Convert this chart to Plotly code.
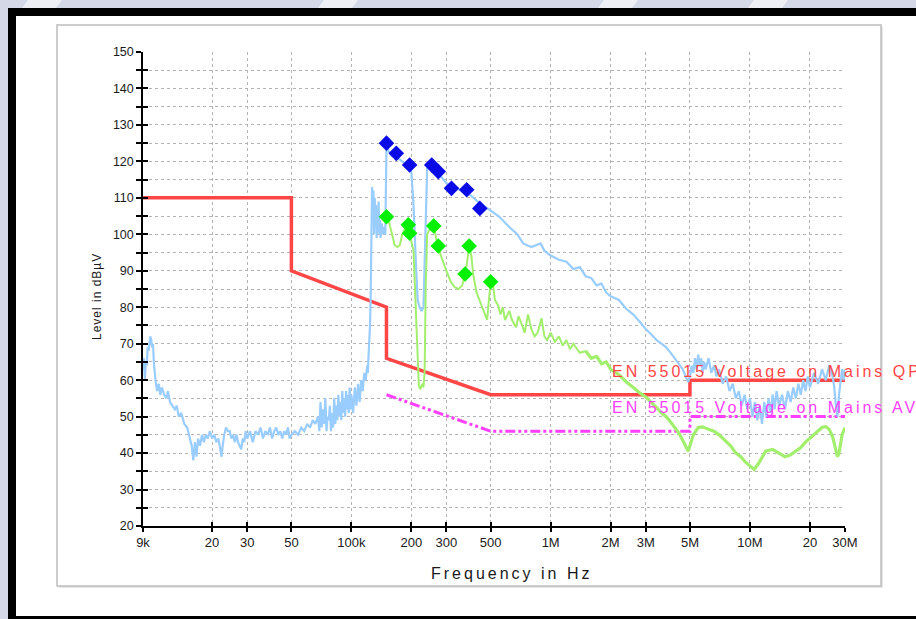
import plotly.graph_objects as go

# ---------------- data ----------------
# Peak scan (light blue), frequency in kHz, level in dBuV
peak_f_khz = [9.0, 9.1, 9.2, 9.3, 9.4, 9.5, 9.6, 9.7, 9.8, 9.9, 10.0, 10.1, 10.2, 10.4, 10.6, 10.8,
              11.0, 11.2, 11.5, 11.8, 12.0, 12.3, 12.6, 13.0, 13.3, 13.6, 14.0, 14.5, 15.0, 15.4,
              15.8, 16.1, 16.4, 16.7, 17.0, 17.4, 17.8, 18.2, 18.6, 19.0, 19.5, 20.0, 20.5, 21.0,
              21.5, 22.0, 22.3, 22.6, 23.0, 23.5, 24.0, 24.5, 25.0, 25.5, 26.0, 26.5, 27.0, 27.5,
              28.0, 28.5, 29.0, 29.5, 30, 31, 32, 33, 34, 35, 36, 37, 38, 39, 40, 41, 42, 43, 44,
              45, 46, 47, 48, 49, 50, 52, 54, 56, 58, 60, 62, 64, 66, 68, 69, 70, 71, 72, 73, 74,
              75, 76, 77, 78, 79, 80, 81, 82, 83, 84, 85, 86, 87, 88, 89, 90, 91, 92, 93, 94, 95,
              96, 97, 98, 99, 100, 102, 104, 106, 108, 110, 112, 114, 116, 118, 120, 121, 122, 123,
              124, 125, 126, 127, 128, 129, 130, 131, 132, 133, 134, 135, 136, 137, 138, 139, 140,
              142, 144, 146, 148, 149, 150, 155, 160, 165, 170, 175, 180, 190, 196, 200, 205, 210,
              215, 220, 225, 230, 235, 240, 250, 260, 270, 280, 290, 300, 318, 340, 360, 379, 400,
              420, 441, 470, 500, 553, 620, 680, 728, 800, 890, 930, 990, 1100, 1200, 1300, 1400,
              1500, 1600, 1700, 1800, 1900, 2000, 2200, 2400, 2600, 2800, 3000, 3200, 3400, 3600,
              3800, 4000, 4200, 4400, 4600, 4800, 4900, 5000, 5100, 5200, 5300, 5400, 5500, 5600,
              5700, 5800, 5900, 6000, 6200, 6400, 6600, 6800, 7000, 7300, 7600, 7900, 8200, 8500,
              8800, 9100, 9400, 9700, 10000, 10300, 10600, 10900, 11200, 11500, 11800, 12100,
              12400, 12700, 13000, 13300, 13600, 14000, 14500, 15000, 15500, 16000, 16500, 17000,
              17500, 18000, 18500, 19000, 19500, 20000, 21000, 22000, 23000, 24000, 25000, 26000,
              26500, 27000, 27500, 28000, 28500, 29000, 29500, 30000]
peak_db = [63, 66, 60, 65, 64, 69, 68, 70, 72, 71, 69, 70, 65, 60, 57, 59,
           56, 58, 56, 55, 57, 54, 53, 52, 53, 50, 51, 48, 47, 44,
           42, 38, 43, 39, 44, 42, 45, 43, 45, 44, 46, 44, 45, 43,
           44, 41, 39, 42, 45, 47, 46, 46, 44, 45, 43, 45, 43, 42,
           41, 44, 43, 46, 44, 46, 43, 46, 45, 47, 44, 46, 45, 47, 44, 46, 47, 45, 46,
           44, 46, 45, 47, 44, 45, 46, 45, 47, 46, 48, 47, 49, 48, 50, 46, 54, 47, 52, 48, 55,
           46, 50, 49, 53, 46, 51, 47, 55, 48, 53, 49, 56, 50, 54, 49, 57, 51, 55, 50, 57, 52,
           56, 51, 58, 52, 56, 51, 58, 53, 59, 54, 60, 57, 62, 60, 64, 62, 67, 70,
           75, 83, 95, 113, 105, 112, 100, 110, 102, 108, 99, 106, 101, 109, 100, 104, 99,
           103, 100, 102, 100, 110, 124, 122.5, 121.5, 121.5, 121, 120.5, 120, 119, 118.5, 117, 108, 94,
           82, 80, 79, 80, 100, 118, 118.5, 118, 117, 116, 115, 114, 113, 112.5, 112, 111.5, 110.5,
           109.5, 108.5, 107.5, 106.5, 104.8, 102, 100, 97.5, 96.5, 97.5, 95.5, 94.3, 93, 92.5, 90.5, 91,
           88.5, 88, 86, 86.5, 84, 83, 82, 79.5, 78, 76, 74, 72.5, 71, 70,
           69, 67.5, 66, 64.5, 63, 60.5, 59.5, 61, 64, 62, 66, 63, 67, 64,
           66, 62, 65, 63, 66, 62, 64, 61, 63, 59, 61, 57, 59, 55,
           57, 53, 56, 52, 55, 50, 54, 49, 53, 48, 54, 50,
           55, 51, 56, 52, 57, 53, 56, 52, 57, 54, 58, 55,
           59, 56, 60, 57, 61, 58, 62, 59, 63, 60, 64, 61,
           58, 53, 50, 56, 59, 63, 60, 63]

# Average scan (light green), from 150 kHz
avg_f_khz = [150, 155, 160, 165, 170, 175, 180, 187, 193, 196, 200, 205, 210, 215, 218, 222, 226,
             230, 233, 236, 240, 250, 259, 266, 273, 280, 295, 315, 330, 345, 360, 372, 380, 390,
             400, 410, 425, 445, 465, 480, 490, 500, 512, 525, 545, 560, 575, 590, 620, 640, 670,
             690, 720, 740, 770, 800, 830, 860, 900, 930, 960, 1000, 1050, 1100, 1150, 1200, 1250,
             1300, 1400, 1500, 1600, 1700, 1800, 1900, 2000, 2200, 2400, 2600, 2800, 3000, 3200,
             3400, 3600, 3800, 4000, 4200, 4400, 4600, 4800, 4900, 5000, 5200, 5500, 5800, 6200,
             6600, 7000, 7500, 8000, 8500, 9000, 9500, 10000, 10500, 11000, 11500, 12000, 13000,
             14000, 15000, 16000, 17000, 18000, 19000, 20000, 21000, 22000, 23000, 24000, 25000,
             26000, 27000, 27500, 28000, 28500, 29000, 30000]
avg_db = [104.8, 103, 100, 97, 96.5, 97, 100, 102, 102.6, 100.3, 98, 95.5, 80, 65, 58.5, 57.5, 59,
          58, 62, 85, 100, 102, 102.3, 99, 96.8, 94.5, 91, 87, 85.5, 85, 86, 89.1, 92, 96.8,
          94, 88.5, 84, 81, 78, 76.5, 82, 87, 87, 82, 80.5, 78, 80, 76.5, 79, 76.5, 74.5,
          77.5, 75, 73, 78, 74, 72, 73, 77, 72, 71, 73, 70.5, 72, 69.5, 71, 68.5,
          70, 67.5, 68, 66, 66.5, 64.5, 65, 63, 61.5, 59.5, 58, 56.5, 55.4, 54,
          52.5, 51, 50, 48.5, 47, 45.5, 43.5, 41.5, 40.5, 42, 45, 47, 47.2, 46.5,
          46, 45, 43.5, 42, 40, 39, 37.5, 36.5, 35.5, 37, 39, 40.5, 41,
          40, 39, 39.5, 40.5, 41.5, 43, 44, 45, 46, 47, 47.3, 46.5,
          44.5, 41, 39, 40, 43, 45, 47]

# Final measurements
qp_f_khz = [150, 168, 196, 253, 273, 318, 379, 441]
qp_db = [125.0, 122.2, 119.0, 119.0, 117.2, 112.6, 112.2, 107.1]
av_f_khz = [150, 193, 196, 259, 273, 372, 390, 500]
av_db = [104.8, 102.6, 100.3, 102.3, 96.8, 89.1, 96.8, 87.0]

# EN 55015 limit lines
qp_lim_f_khz = [9, 50, 50, 150, 150, 500, 5000, 5000, 30000]
qp_lim_db = [110, 110, 90, 80, 66, 56, 56, 60, 60]
av_lim_f_khz = [150, 500, 5000, 5000, 30000]
av_lim_db = [56, 46, 46, 50, 50]

x_tick_khz = [9, 20, 30, 50, 100, 200, 300, 500, 1000, 2000, 3000, 5000, 10000, 20000, 30000]
x_tick_text = ["9k", "20", "30", "50", "100k", "200", "300", "500", "1M", "2M", "3M", "5M",
               "10M", "20", "30M"]

qp_label = "EN 55015 Voltage on Mains QP"
av_label = "EN 55015 Voltage on Mains AV"

# ---------------- figure ----------------
W, H = 916, 619
L, T = 143, 52
PW, PH = 702, 474
R, B = W - L - PW, H - T - PH


def px(x):
    return (x - L) / PW


def py(y):
    return (T + PH - y) / PH


hz = lambda arr: [v * 1e3 for v in arr]
FONT = "Arial, Liberation Sans, sans-serif"
GREEN = "#a2ef6e"

# the average trace is drawn thinner up to 1.5 MHz and thicker (noisier) above
split = avg_f_khz.index(1500)

fig = go.Figure()
fig.add_trace(go.Scatter(x=hz(qp_lim_f_khz), y=qp_lim_db, mode="lines",
                         line=dict(color="#ff4646", width=3.5), name="QP limit"))
fig.add_trace(go.Scatter(x=hz(av_lim_f_khz), y=av_lim_db, mode="lines",
                         line=dict(color="#ff40ff", width=3, dash="10px,3px,3px,3px,3px,3px"),
                         name="AV limit"))
fig.add_trace(go.Scatter(x=hz(peak_f_khz), y=peak_db, mode="lines",
                         line=dict(color="#99ccff", width=2.2), name="Peak"))
fig.add_trace(go.Scatter(x=hz(avg_f_khz[:split + 1]), y=avg_db[:split + 1], mode="lines",
                         line=dict(color=GREEN, width=2), name="Average"))
fig.add_trace(go.Scatter(x=hz(avg_f_khz[split:]), y=avg_db[split:], mode="lines",
                         line=dict(color=GREEN, width=3.2), name="Average", showlegend=False))
fig.add_trace(go.Scatter(x=hz(qp_f_khz), y=qp_db, mode="markers",
                         marker=dict(symbol="diamond", size=12, color="#0a0ae6"), name="QP"))
fig.add_trace(go.Scatter(x=hz(av_f_khz), y=av_db, mode="markers",
                         marker=dict(symbol="diamond", size=12, color="#00f000"), name="AV"))
# empty trace to host the overlay axes that give the crossing ticks
fig.add_trace(go.Scatter(x=[], y=[], xaxis="x2", yaxis="y2", showlegend=False, hoverinfo="skip"))

xr = [3.9542425094, 7.4771212547]
tickfont = dict(family=FONT, size=12.5, color="#1a1a1a")
fig.update_layout(
    width=W, height=H,
    margin=dict(l=L, r=R, t=T, b=B, pad=0),
    paper_bgcolor="#d5d8e7", plot_bgcolor="rgba(0,0,0,0)",
    showlegend=False,
    xaxis=dict(type="log", range=xr, tickvals=hz(x_tick_khz), ticktext=x_tick_text,
               ticks="outside", ticklen=4, tickwidth=1.5, tickcolor="black",
               showline=True, linecolor="black", linewidth=1.5,
               showgrid=True, gridcolor="#b4b4b4", griddash="dot", gridwidth=1,
               zeroline=False, tickfont=dict(family=FONT, size=13, color="#1a1a1a")),
    yaxis=dict(range=[20, 150], dtick=10, tick0=0, ticks="outside", ticklen=5, tickwidth=1.5,
               tickcolor="black", showline=True, linecolor="black", linewidth=1.5,
               showgrid=True, gridcolor="#b4b4b4", griddash="dot", gridwidth=1,
               zeroline=False, tickfont=tickfont,
               minor=dict(dtick=5, tick0=0, ticks="outside", ticklen=5, tickwidth=1.5,
                          tickcolor="black", showgrid=True, gridcolor="#b4b4b4",
                          griddash="dot", gridwidth=1)),
    xaxis2=dict(type="log", range=xr, overlaying="x", anchor="y2", side="bottom",
                tickvals=hz(x_tick_khz), ticks="inside", ticklen=4, tickwidth=1.5,
                tickcolor="black", showticklabels=False, showgrid=False, showline=False,
                zeroline=False),
    yaxis2=dict(range=[20, 150], overlaying="y", anchor="x2", side="left", dtick=10, tick0=0,
                ticks="inside", ticklen=5, tickwidth=1.5, tickcolor="black",
                showticklabels=False, showgrid=False, showline=False, zeroline=False,
                minor=dict(dtick=5, tick0=0, ticks="inside", ticklen=5, tickwidth=1.5,
                           tickcolor="black", showgrid=False)),
)

shapes = []
# faint watermark stripes in the lavender top strip
for x0 in [22, 318, 598, 748]:
    shapes.append(dict(type="path", xref="paper", yref="paper", layer="below",
                       path=f"M {px(x0 + 6)},{py(0)} L {px(x0 + 40)},{py(0)} "
                            f"L {px(x0 + 34)},{py(8)} L {px(x0)},{py(8)} Z",
                       fillcolor="rgba(255,255,255,0.6)", line=dict(width=0)))
# black frame and white page
shapes.append(dict(type="rect", xref="paper", yref="paper", layer="below",
                   x0=px(8), x1=px(W + 40), y0=py(H + 40), y1=py(8),
                   fillcolor="black", line=dict(width=0)))
shapes.append(dict(type="rect", xref="paper", yref="paper", layer="below",
                   x0=px(16), x1=px(W + 40), y0=py(616), y1=py(16),
                   fillcolor="white", line=dict(width=0)))
# panel shadow and border
shapes.append(dict(type="rect", xref="paper", yref="paper", layer="below",
                   x0=px(59), x1=px(883), y0=py(588), y1=py(27),
                   fillcolor="#e6e6e6", line=dict(width=0)))
shapes.append(dict(type="rect", xref="paper", yref="paper", layer="below",
                   x0=px(57), x1=px(881), y0=py(586), y1=py(25),
                   fillcolor="white", line=dict(color="#bdbdbd", width=1.5)))
fig.update_layout(shapes=shapes)

fig.add_annotation(xref="paper", yref="paper", x=px(512), y=py(573), xanchor="center",
                   yanchor="middle", showarrow=False,
                   text='<span style="letter-spacing:3px">Frequency in Hz</span>',
                   font=dict(family=FONT, size=16, color="#1a1a1a"))
fig.add_annotation(xref="paper", yref="paper", x=px(97), y=py(297), xanchor="center",
                   yanchor="middle", showarrow=False, textangle=-90,
                   text='<span style="letter-spacing:1px">Level in dBµV</span>',
                   font=dict(family=FONT, size=12, color="#1a1a1a"))
fig.add_annotation(xref="paper", yref="paper", x=px(610), y=py(371), xanchor="left",
                   yanchor="middle", showarrow=False,
                   text=f'<span style="letter-spacing:3px">{qp_label}</span>',
                   font=dict(family=FONT, size=16, color="#ff4646"))
fig.add_annotation(xref="paper", yref="paper", x=px(610), y=py(408), xanchor="left",
                   yanchor="middle", showarrow=False,
                   text=f'<span style="letter-spacing:3px">{av_label}</span>',
                   font=dict(family=FONT, size=16, color="#ff40ff"))

# the figure fills the window exactly: no page margin, no scrollbars
post = ("document.documentElement.style.overflow = 'hidden';"
        "document.body.style.overflow = 'hidden';"
        "document.body.style.margin = '0';"
        "document.body.style.background = '#d5d8e7';")
fig.write_html("out.html", post_script=post, config={"displayModeBar": False})
